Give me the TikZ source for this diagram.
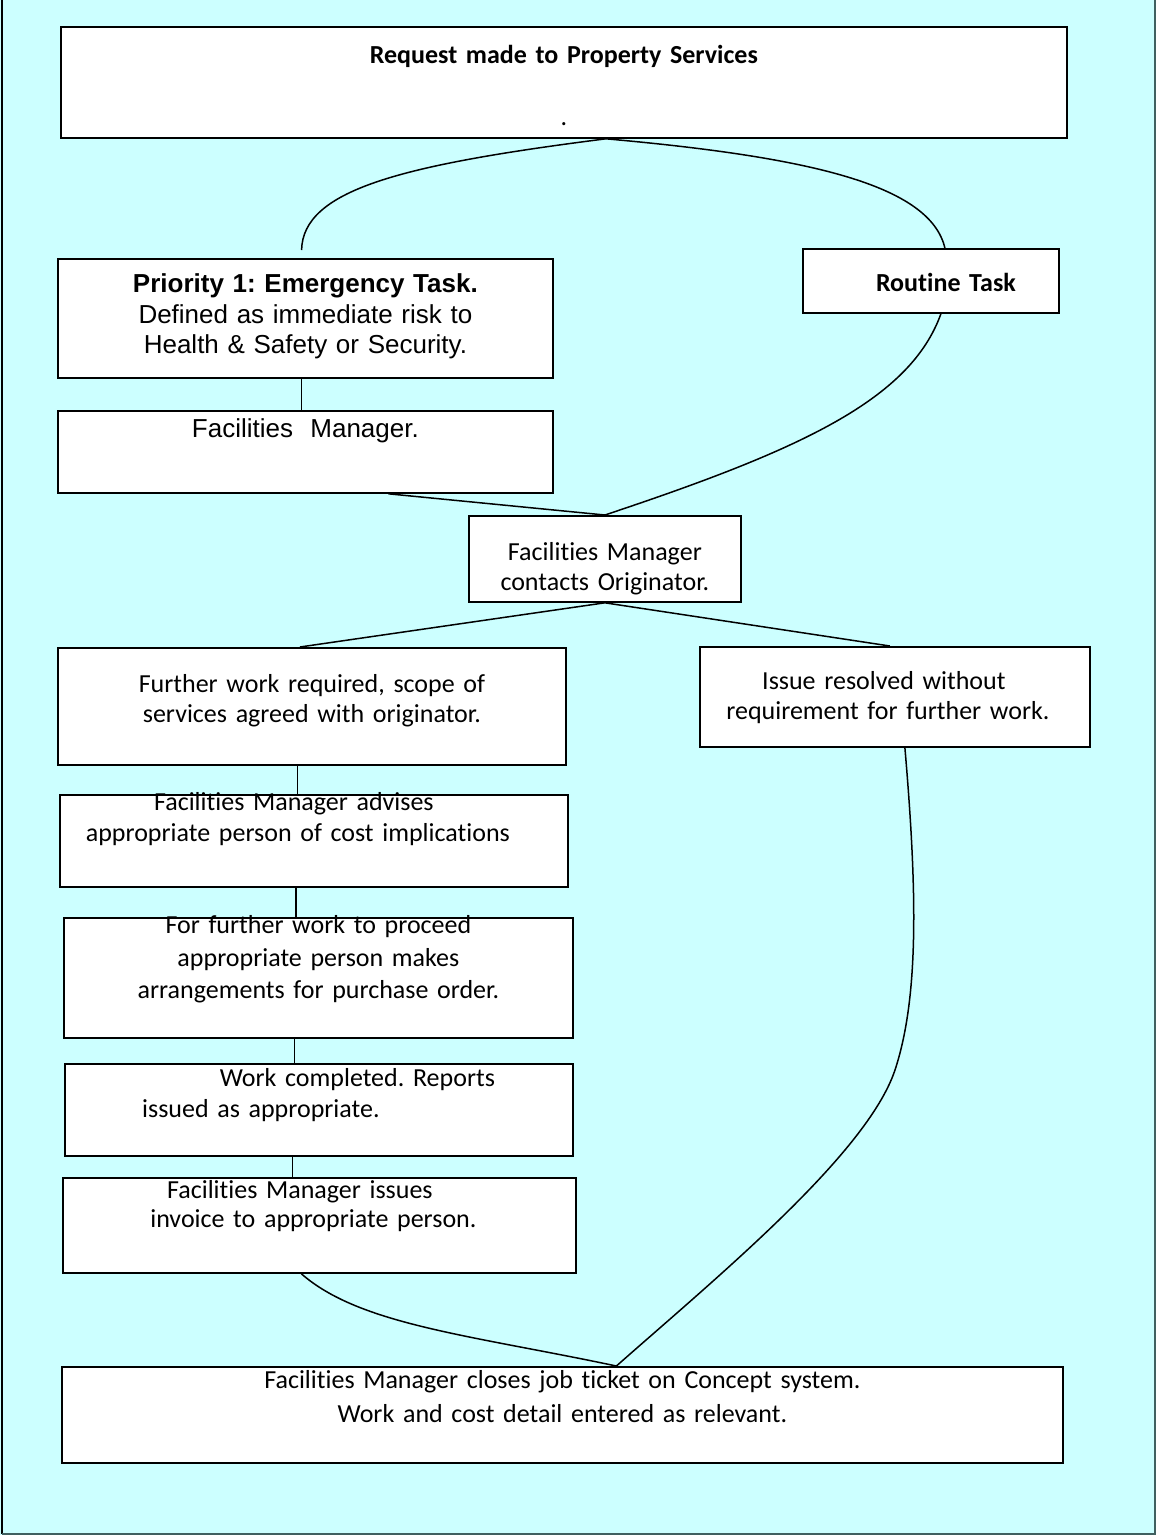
\documentclass[tikz,border=0pt]{standalone}
\usepackage{fontspec}
\setmainfont{Carlito}[Ligatures={NoCommon,NoRare}, Contextuals={NoAlternate}]
\newfontfamily\arialfont{Liberation Sans}
\definecolor{sheet}{RGB}{204,255,255}
\definecolor{edge}{RGB}{64,96,96}
\frenchspacing

\begin{document}
\begin{tikzpicture}[x=1pt, y=-1pt,
    box/.style={rectangle, draw, fill=white, line width=1.8pt, inner sep=0pt, anchor=north west, align=center, font=\fontsize{26}{31}\selectfont},
    abox/.style={box, font=\arialfont\fontsize{26}{30.5}\selectfont},
    link/.style={line width=1.5pt}]

    \useasboundingbox (0,0) rectangle (1156,1535);
    \fill[sheet] (0,0) rectangle (1156,1535);
    \draw[line width=2pt] (2,0) -- (2,1534);
    \draw[edge, line width=2pt] (2,1534) -- (1155,1534) -- (1155,0);

    \node[box, text width=1006pt, text height=37pt, text depth=74pt] (request) at (60,26) {\textbf{Request made to Property Services}\\[31pt] .};
    \node[abox, text width=495pt, text height=34pt, text depth=85pt] (prio) at (57,258) {\textbf{Priority 1: Emergency Task.}\\ Defined as immediate risk to\\ Health \& Safety or Security.};
    \node[box, text width=256pt, text height=43pt, text depth=21pt] (routine) at (802,248) {\hspace*{30pt}\textbf{Routine Task}};
    \node[abox, text width=495pt, text height=27pt, text depth=55pt] (fm) at (57,410) {Facilities\ \ Manager.};
    \node[box, text width=272pt, text height=45pt, text depth=41pt] (contacts) at (468,515) {Facilities Manager\\[-1pt] contacts Originator.};
    \node[box, text width=508pt, text height=45pt, text depth=72pt] (further) at (57,647) {Further work required, scope of\\[-1pt] services agreed with originator.};
    \node[box, text width=390pt, text height=43pt, text depth=57pt] (issue) at (699,646) {\hspace*{-22pt}Issue resolved without\\[-1pt] \hspace*{-14pt}requirement for further work.};
    \node[box, text width=508pt, text height=16pt, text depth=76pt] (advises) at (59,794) {\hspace*{-40pt}Facilities Manager advises\\ \hspace*{-32pt}appropriate person of cost implications};
    \node[box, text width=509pt, text height=16pt, text depth=104pt] (proceed) at (63,917) {For further work to proceed\\[1.5pt] appropriate person makes\\[1.5pt] arrangements for purchase order.};
    \node[box, text width=508pt, text height=23pt, text depth=69pt] (work) at (64,1063) {\hspace*{77pt}Work completed. Reports\\ \hspace*{-116pt}issued as appropriate.};
    \node[box, text width=513pt, text height=21pt, text depth=74pt] (invoice) at (62,1177) {\hspace*{-39pt}Facilities Manager issues\\[-2pt] \hspace*{-12pt}invoice to appropriate person.};
    \node[box, text width=1001pt, text height=22pt, text depth=74pt] (final) at (61,1366) {Facilities Manager closes job ticket on Concept system.\\[3pt] Work and cost detail entered as relevant.};

    \draw[link, shorten >=8pt] ([xshift=42pt]request.south) .. controls (400,165) and (303,190) .. ([xshift=-4pt]prio.north);
    \draw[link] ([xshift=42pt]request.south) .. controls (810,157) and (930,185) .. ([xshift=14pt]routine.north);
    \draw[link] ([xshift=-4pt]prio.south) -- ([xshift=-4pt]fm.north);
    \draw[link] ([xshift=83pt]fm.south) -- (contacts.north);
    \draw[link] ([xshift=10pt]routine.south) .. controls (910,400) and (800,450) .. (contacts.north);
    \draw[link] (contacts.south) -- ([xshift=-12pt]further.north);
    \draw[link] (contacts.south) -- ([xshift=-5pt]issue.north);
    \draw[link] ([xshift=-14.4pt]further.south) -- ([xshift=-16.4pt]advises.north);
    \draw[link] ([xshift=-18pt]advises.south) -- ([xshift=-22.5pt]proceed.north);
    \draw[link] ([xshift=-24pt]proceed.south) -- ([xshift=-24.5pt]work.north);
    \draw[link] ([xshift=-26.4pt]work.south) -- ([xshift=-26.9pt]invoice.north);
    \draw[link] ([xshift=-18pt]invoice.south) .. controls (360,1325) and (470,1335) .. ([xshift=54pt]final.north);
    \draw[link] ([xshift=10pt]issue.south) .. controls (918,900) and (918,1000) .. (895,1070) .. controls (867,1154) and (716,1278) .. ([xshift=54pt]final.north);
\end{tikzpicture}
\end{document}
